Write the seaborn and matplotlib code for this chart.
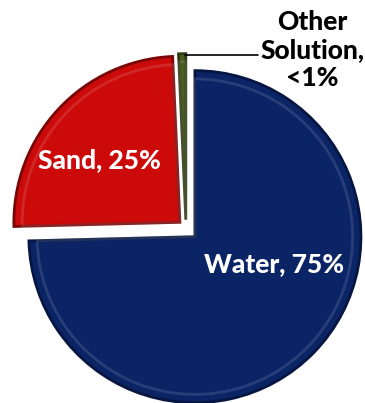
import matplotlib
matplotlib.use("Agg")
import matplotlib.pyplot as plt
import seaborn as sns
import numpy as np

categories = ["Water", "Sand", "Other Solution"]
values = [74.6, 24.7, 0.7]
labels = ["Water, 75%", "Sand, 25%", "Other\nSolution,\n<1%"]
colors = ["#0b2466", "#cc0a0a", "#4a5e22"]
edge_colors = ["#061640", "#7a0505", "#2c3a12"]
explode = [0.075, 0.05, 0.05]

sns.set_theme(style="white")
plt.rcParams['font.family'] = ['Lato', 'DejaVu Sans']

fig = plt.figure(figsize=(3.65, 4.03), dpi=100)
ax = fig.add_axes([0, 0, 1, 1])

wedges, _ = ax.pie(values, colors=colors, explode=explode, startangle=90,
                   counterclock=False, radius=1.0,
                   wedgeprops=dict(linewidth=2.0, edgecolor="none"))
for w, ec in zip(wedges, edge_colors):
    w.set_edgecolor(ec)
    w.set_linewidth(2.0)

# inner bevel highlight
for w, c in zip(wedges, colors):
    cx, cy = w.center
    inner = matplotlib.patches.Wedge((cx, cy), w.r * 0.95, w.theta1, w.theta2,
                                     facecolor="none", edgecolor="white",
                                     alpha=0.12, linewidth=2)
    ax.add_patch(inner)

txt = dict(color="white", fontsize=19, fontweight="black", ha="center", va="center")
# Water label
ax.text(0.53, -0.22, labels[0], **txt)
# Sand label
ax.text(-0.52, 0.41, labels[1], **txt)
# Other label
ax.text(0.76, 1.07, labels[2], color="black", fontsize=19, fontweight="black",
        ha="center", va="center", linespacing=1.2)

w = wedges[2]
cx, cy = w.center
ang = np.deg2rad((w.theta1 + w.theta2) / 2)
ax.annotate("", xy=(cx + 0.99 * np.cos(ang), cy + 0.99 * np.sin(ang)),
            xytext=(0.45, 1.04),
            arrowprops=dict(arrowstyle="-", color="black", lw=1.2,
                            connectionstyle="angle,angleA=0,angleB=-8,rad=0"))

ax.set_aspect("equal")
ax.set_xlim(-1.12, 1.078)
ax.set_ylim(-1.054, 1.373)
ax.axis("off")
fig.savefig("out.png", dpi=100)
